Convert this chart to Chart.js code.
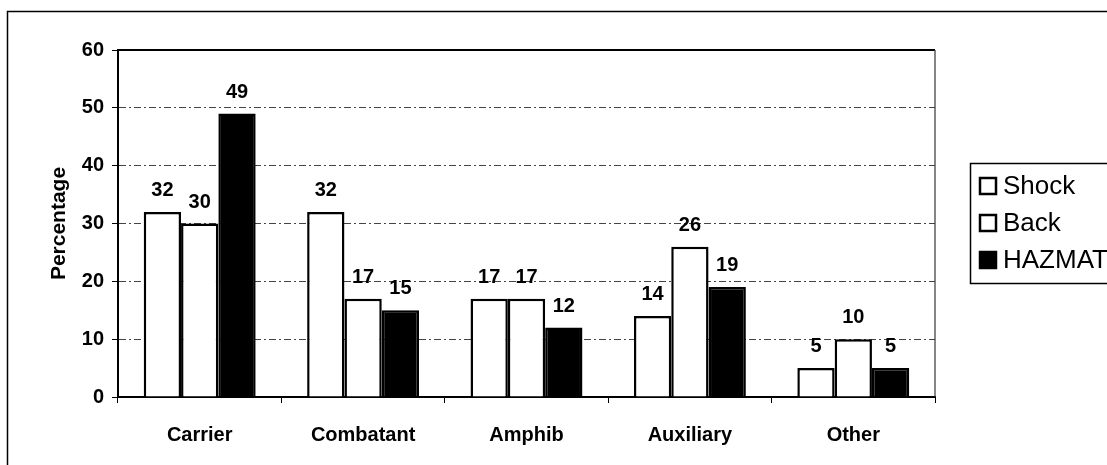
<!DOCTYPE html>
<html>
<head>
<meta charset="utf-8">
<script src="https://cdn.jsdelivr.net/npm/chart.js@4/dist/chart.umd.min.js"></script>
<style>
  html, body { margin: 0; padding: 0; background: #fff; overflow: hidden; }
  #wrap { width: 1107px; height: 465px; }
</style>
</head>
<body>
<div id="wrap"><canvas id="shipChart" width="1107" height="465"></canvas></div>
<script>
const categories = ["Carrier", "Combatant", "Amphib", "Auxiliary", "Other"];
const seriesNames = ["Shock", "Back", "HAZMAT"];
const shock = [32, 32, 17, 14, 5];
const back = [30, 17, 17, 26, 10];
const hazmat = [49, 15, 12, 19, 5];
const yTicks = [0, 10, 20, 30, 40, 50, 60];

const FONT = '"Liberation Sans", Arial, sans-serif';
Chart.defaults.font.family = FONT;
Chart.defaults.color = "#000";

// outer frame, plot top/right edges and the boxed legend
const framePlugin = {
    id: "frame",
    beforeDraw(chart) {
        const ctx = chart.ctx;
        ctx.save();
        ctx.fillStyle = "#fff";
        ctx.fillRect(0, 0, chart.width, chart.height);
        ctx.strokeStyle = "#000";
        ctx.lineWidth = 1.5;
        ctx.strokeRect(7.5, 11.5, 1300, 600);
        ctx.restore();
    },
    afterDraw(chart) {
        const ctx = chart.ctx;
        const a = chart.chartArea;
        ctx.save();
        ctx.strokeStyle = "#000";
        ctx.lineWidth = 2;
        ctx.beginPath();
        ctx.moveTo(a.left, a.top);
        ctx.lineTo(a.right, a.top);
        ctx.stroke();
        ctx.lineWidth = 1.2;
        ctx.strokeStyle = "#333";
        ctx.beginPath();
        ctx.moveTo(a.right, a.top);
        ctx.lineTo(a.right, a.bottom);
        ctx.stroke();

        // legend
        const lx = 970, ly = 163;
        ctx.lineWidth = 1.5;
        ctx.strokeStyle = "#000";
        ctx.strokeRect(lx + 0.5, ly + 0.5, 300, 120);
        ctx.font = "26px " + FONT;
        ctx.textBaseline = "middle";
        ctx.textAlign = "left";
        chart.data.datasets.forEach((ds, i) => {
            const y = ly + 15 + i * 37;
            ctx.fillStyle = ds.backgroundColor;
            ctx.fillRect(lx + 10, y, 16, 16);
            ctx.lineWidth = 2.5;
            ctx.strokeStyle = "#000";
            ctx.strokeRect(lx + 10, y, 16, 16);
            ctx.fillStyle = "#000";
            ctx.fillText(ds.label, lx + 33, y + 9);
        });
        ctx.restore();
    }
};

const valueLabels = {
    id: "valueLabels",
    afterDatasetsDraw(chart) {
        const ctx = chart.ctx;
        ctx.save();
        ctx.font = "bold 20px " + FONT;
        ctx.fillStyle = "#000";
        ctx.textAlign = "center";
        ctx.textBaseline = "alphabetic";
        chart.data.datasets.forEach((ds, i) => {
            chart.getDatasetMeta(i).data.forEach((bar, j) => {
                ctx.fillText(ds.data[j], bar.x, bar.y - 16);
            });
        });
        ctx.restore();
    }
};

const barStyle = {
    borderColor: "#000",
    borderWidth: 2.5,
    borderSkipped: "bottom",
    categoryPercentage: 0.685,
    barPercentage: 1
};

new Chart(document.getElementById("shipChart"), {
    type: "bar",
    data: {
        labels: categories,
        datasets: [
            { label: seriesNames[0], data: shock, backgroundColor: "#fff", ...barStyle },
            { label: seriesNames[1], data: back, backgroundColor: "#fff", ...barStyle },
            { label: seriesNames[2], data: hazmat, backgroundColor: "#000", ...barStyle }
        ]
    },
    options: {
        responsive: false,
        animation: false,
        layout: { padding: { left: 0, right: 172, top: 50, bottom: 0 } },
        plugins: {
            legend: { display: false },
            tooltip: { enabled: false }
        },
        scales: {
            x: {
                grid: {
                    offset: true,
                    drawOnChartArea: false,
                    drawTicks: true,
                    tickLength: 6,
                    tickColor: "#000"
                },
                border: { color: "#000", width: 2 },
                ticks: { font: { size: 20, weight: "bold" }, padding: 20 },
                afterFit: s => { s.height = 68; }
            },
            y: {
                min: 0,
                max: 60,
                afterBuildTicks: s => { s.ticks = yTicks.map(v => ({ value: v })); },
                grid: {
                    color: "#444",
                    lineWidth: 1,
                    tickLength: 6,
                    tickColor: "#000"
                },
                border: { color: "#000", width: 2, dash: [7, 3, 2, 3] },
                ticks: { font: { size: 20, weight: "bold" }, padding: 8 },
                title: {
                    display: true,
                    text: "Percentage",
                    font: { size: 21, weight: "bold" },
                    padding: { top: 47, bottom: 0 }
                },
                afterFit: s => { s.width = 118; }
            }
        }
    },
    plugins: [framePlugin, valueLabels]
});
</script>
</body>
</html>
